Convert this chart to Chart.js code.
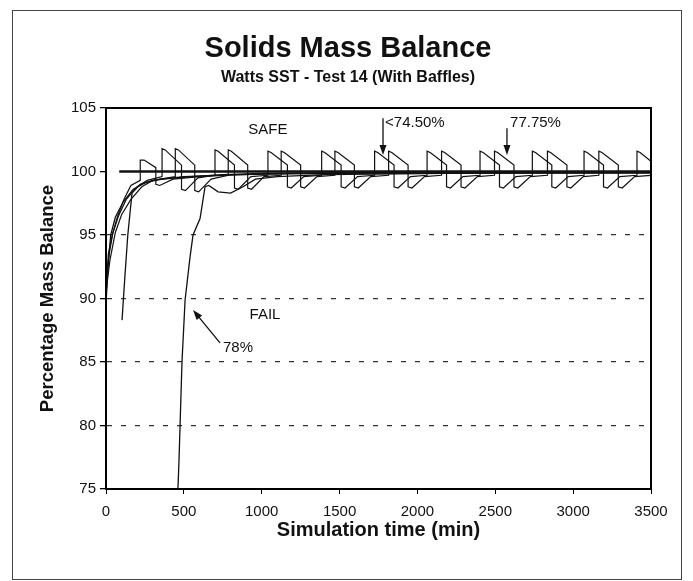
<!DOCTYPE html>
<html>
<head>
<meta charset="utf-8">
<script src="https://cdn.jsdelivr.net/npm/chart.js@4.4.1/dist/chart.umd.min.js"></script>
<style>
  body { margin: 0; background: #fff; }
  #wrap { position: relative; width: 693px; height: 581px; }
  #frame { position: absolute; left: 12px; top: 10px; width: 668px; height: 568px; border: 1.5px solid #444; pointer-events: none; }
</style>
</head>
<body>
<div id="wrap">
  <canvas id="chart" width="693" height="581"></canvas>
  <div id="frame"></div>
</div>
<script>
// run "<74.50%" style sawtooth, first family
const timeA = [
  0, 20, 45, 80, 130, 200, 265,
  360, 360, 380, 485, 485, 510, 590,
  700, 700, 720, 825, 825, 850, 930,
  1040, 1040, 1060, 1165, 1165, 1190, 1270,
  1385, 1385, 1405, 1510, 1510, 1535, 1615,
  1725, 1725, 1745, 1850, 1850, 1875, 1955,
  2062, 2062, 2082, 2187, 2187, 2212, 2292,
  2402, 2402, 2422, 2527, 2527, 2552, 2632,
  2738, 2738, 2758, 2863, 2863, 2888, 2968,
  3070, 3070, 3090, 3195, 3195, 3220, 3300,
  3410, 3410, 3430, 3500
];
const valA = [
  91.5, 93.5, 95.2, 96.5, 97.8, 98.8, 99.3,
  99.6, 101.8, 101.7, 100.5, 98.6, 98.5, 99.5,
  99.7, 101.7, 101.6, 100.5, 98.7, 98.6, 99.6,
  99.7, 101.6, 101.5, 100.5, 98.8, 98.7, 99.6,
  99.7, 101.6, 101.5, 100.5, 98.8, 98.7, 99.6,
  99.7, 101.6, 101.5, 100.5, 98.8, 98.7, 99.6,
  99.7, 101.6, 101.5, 100.5, 98.8, 98.7, 99.6,
  99.7, 101.6, 101.5, 100.5, 98.8, 98.7, 99.6,
  99.7, 101.6, 101.5, 100.5, 98.8, 98.7, 99.6,
  99.7, 101.6, 101.5, 100.5, 98.8, 98.7, 99.6,
  99.7, 101.6, 101.5, 100.8
];

// second sawtooth family, lagging the first
const timeB = [
  0, 25, 60, 100, 160, 230, 300,
  445, 445, 465, 570, 570, 595, 675,
  785, 785, 805, 910, 910, 935, 1015,
  1125, 1125, 1145, 1250, 1250, 1275, 1355,
  1470, 1470, 1490, 1595, 1595, 1620, 1700,
  1815, 1815, 1835, 1940, 1940, 1965, 2045,
  2155, 2155, 2175, 2280, 2280, 2305, 2385,
  2495, 2495, 2515, 2620, 2620, 2645, 2725,
  2835, 2835, 2855, 2960, 2960, 2985, 3065,
  3165, 3165, 3185, 3290, 3290, 3315, 3395,
  3500
];
const valB = [
  90.5, 93, 95.2, 96.6, 97.8, 98.8, 99.3,
  99.6, 101.8, 101.7, 100.5, 98.5, 98.4, 99.4,
  99.7, 101.7, 101.6, 100.5, 98.7, 98.6, 99.6,
  99.7, 101.6, 101.5, 100.5, 98.8, 98.7, 99.6,
  99.7, 101.6, 101.5, 100.5, 98.8, 98.7, 99.6,
  99.7, 101.6, 101.5, 100.5, 98.8, 98.7, 99.6,
  99.7, 101.6, 101.5, 100.5, 98.8, 98.7, 99.6,
  99.7, 101.6, 101.5, 100.5, 98.8, 98.7, 99.6,
  99.7, 101.6, 101.5, 100.5, 98.8, 98.7, 99.6,
  99.7, 101.6, 101.5, 100.5, 98.8, 98.7, 99.6,
  99.7
];

// run with one small early overshoot
const timeC = [0, 15, 40, 75, 115, 160, 220, 220, 245, 320, 320, 345, 430, 600, 850, 1200, 2000, 3500];
const valC = [90, 93.5, 95, 96.5, 97.8, 98.9, 99.3, 100.9, 100.9, 100.3, 99.0, 98.9, 99.4, 99.6, 99.75, 99.85, 99.9, 99.9];

// smooth runs
const timeD = [0, 10, 30, 60, 110, 175, 250, 350, 500, 700, 1000, 1500, 2500, 3500];
const valD = [89.5, 92, 95, 96.4, 97.6, 98.6, 99.1, 99.4, 99.6, 99.7, 99.8, 99.85, 99.9, 99.9];

const timeE = [103, 120, 140, 167, 220, 300, 400, 550, 750, 1000, 1500, 3500];
const valE = [88.3, 91.5, 95, 98.3, 99.0, 99.3, 99.45, 99.6, 99.75, 99.85, 99.9, 99.95];

// 78% run (fail)
const timeF = [462, 469, 488, 508, 540, 559, 604, 636, 660, 720, 800, 880, 960, 1100, 1400, 2200, 3500];
const valF = [75, 77.3, 85, 89.9, 93.3, 95, 96.3, 98.8, 98.9, 98.4, 98.3, 98.8, 99.4, 99.6, 99.75, 99.85, 99.9];

// 100 % reference
const timeRef = [85, 3500];
const valRef = [100, 100];

const yTicks = [75, 80, 85, 90, 95, 100, 105];
const xTicks = [0, 500, 1000, 1500, 2000, 2500, 3000, 3500];

function pts(ts, vs) {
  return ts.map(function (t, i) { return { x: t, y: vs[i] }; });
}

const FONT = "'Liberation Sans', Arial, sans-serif";

const notes = [
  { text: "SAFE", t: 1040, v: 103.3, align: "center" },
  { text: "FAIL", t: 1021, v: 88.7, align: "center" },
  { text: "78%", t: 751, v: 86.1, align: "left" },
  { text: "<74.50%", t: 1792, v: 103.8, align: "left" },
  { text: "77.75%", t: 2595, v: 103.8, align: "left" }
];
const arrows = [
  { t1: 1779, v1: 104.2, t2: 1779, v2: 101.3 },
  { t1: 2575, v1: 103.4, t2: 2575, v2: 101.3 },
  { t1: 732, v1: 86.5, t2: 559, v2: 89.1 }
];

const notesPlugin = {
  id: "notes",
  afterDatasetsDraw(chart) {
    const ctx = chart.ctx;
    const xs = chart.scales.x, ys = chart.scales.y;
    const a = chart.chartArea;
    ctx.save();
    // box round the plot
    ctx.setLineDash([]);
    ctx.strokeStyle = "#000";
    ctx.lineWidth = 2;
    ctx.strokeRect(a.left, a.top, a.right - a.left, a.bottom - a.top);

    ctx.fillStyle = "#111";
    ctx.font = "15px " + FONT;
    ctx.textBaseline = "middle";
    notes.forEach(function (n) {
      ctx.textAlign = n.align;
      ctx.fillText(n.text, xs.getPixelForValue(n.t), ys.getPixelForValue(n.v));
    });

    ctx.strokeStyle = "#111";
    ctx.lineWidth = 1.3;
    arrows.forEach(function (ar) {
      const x1 = xs.getPixelForValue(ar.t1), y1 = ys.getPixelForValue(ar.v1);
      const x2 = xs.getPixelForValue(ar.t2), y2 = ys.getPixelForValue(ar.v2);
      const ang = Math.atan2(y2 - y1, x2 - x1);
      ctx.beginPath();
      ctx.moveTo(x1, y1);
      ctx.lineTo(x2 - 6 * Math.cos(ang), y2 - 6 * Math.sin(ang));
      ctx.stroke();
      ctx.beginPath();
      ctx.moveTo(x2, y2);
      ctx.lineTo(x2 - 10 * Math.cos(ang) + 3.5 * Math.sin(ang), y2 - 10 * Math.sin(ang) - 3.5 * Math.cos(ang));
      ctx.lineTo(x2 - 10 * Math.cos(ang) - 3.5 * Math.sin(ang), y2 - 10 * Math.sin(ang) + 3.5 * Math.cos(ang));
      ctx.closePath();
      ctx.fill();
    });
    ctx.restore();
  }
};

function line(label, ts, vs, width) {
  return {
    label: label,
    data: pts(ts, vs),
    borderColor: "#111",
    borderWidth: width,
    pointRadius: 0,
    tension: 0,
    fill: false
  };
}

new Chart(document.getElementById("chart").getContext("2d"), {
  type: "line",
  data: {
    datasets: [
      line("100%", timeRef, valRef, 2.4),
      line("<74.50%", timeA, valA, 1.2),
      line("77.75%", timeB, valB, 1.2),
      line("76%", timeC, valC, 1.2),
      line("75%", timeD, valD, 1.3),
      line("77%", timeE, valE, 1.3),
      line("78%", timeF, valF, 1.3)
    ]
  },
  options: {
    responsive: false,
    animation: false,
    devicePixelRatio: 1,
    layout: { padding: { left: 45, right: 42, top: 0, bottom: 39 } },
    plugins: {
      legend: { display: false },
      tooltip: { enabled: false },
      title: {
        display: true,
        text: "Solids Mass Balance",
        color: "#111",
        font: { family: FONT, size: 29, weight: "bold" },
        padding: { top: 32, bottom: 0 }
      },
      subtitle: {
        display: true,
        text: "Watts SST - Test 14 (With Baffles)",
        color: "#111",
        font: { family: FONT, size: 16, weight: "bold" },
        padding: { top: 1, bottom: 21 }
      }
    },
    scales: {
      x: {
        type: "linear",
        min: 0,
        max: 3500,
        afterBuildTicks: function (scale) {
          scale.ticks = xTicks.map(function (v) { return { value: v }; });
        },
        afterFit: function (scale) { scale.height = 53; },
        ticks: {
          color: "#111",
          padding: 9,
          maxRotation: 0,
          font: { family: FONT, size: 15 },
          callback: function (v) { return String(v); }
        },
        grid: {
          drawOnChartArea: false,
          tickLength: 5,
          color: "#000"
        },
        border: { display: true, color: "#000", width: 2 },
        title: {
          display: true,
          text: "Simulation time (min)",
          color: "#111",
          font: { family: FONT, size: 20, weight: "bold" },
          padding: { top: 0, bottom: 0 }
        }
      },
      y: {
        min: 75,
        max: 105,
        afterBuildTicks: function (scale) {
          scale.ticks = yTicks.map(function (v) { return { value: v }; });
        },
        afterFit: function (scale) { scale.width = 61; },
        ticks: {
          color: "#111",
          padding: 4,
          font: { family: FONT, size: 15 }
        },
        grid: {
          tickLength: 6,
          lineWidth: 1.3,
          color: function (c) {
            const v = c.tick ? c.tick.value : null;
            return (v > 75 && v < 100) ? "#333" : "rgba(0,0,0,0)";
          },
          tickColor: "#000",
          tickBorderDash: [],
          tickBorderDashOffset: 0
        },
        border: { display: true, color: "#000", width: 2, dash: [5, 9] },
        title: {
          display: true,
          text: "Percentage Mass Balance",
          color: "#111",
          font: { family: FONT, size: 18.5, weight: "bold" },
          padding: { top: -8, bottom: 0 }
        }
      }
    }
  },
  plugins: [notesPlugin]
});
</script>
</body>
</html>
